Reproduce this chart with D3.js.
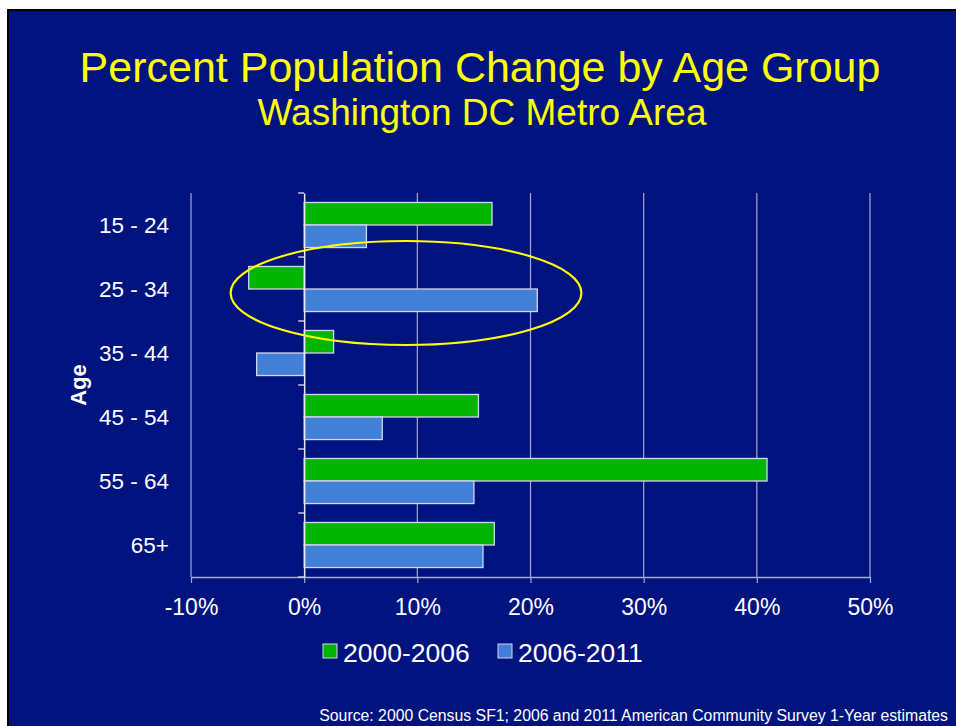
<!DOCTYPE html>
<html>
<head>
<meta charset="utf-8">
<script src="https://cdn.jsdelivr.net/npm/d3@7"></script>
<style>
  body { margin: 0; background: #fff; }
  svg { display: block; font-family: "Liberation Sans", Arial, sans-serif; }
</style>
</head>
<body>
<div id="chart"></div>
<script>
// data
const ageGroups = ["15 - 24", "25 - 34", "35 - 44", "45 - 54", "55 - 64", "65+"];
const series = ["2000-2006", "2006-2011"];
const change2000_2006 = [16.6, -4.9, 2.6, 15.4, 40.9, 16.8];
const change2006_2011 = [5.5, 20.6, -4.2, 6.9, 15.0, 15.8];
const xTicks = [-10, 0, 10, 20, 30, 40, 50];

const colors = ["#00b400", "#427fd6"];
const bg = "#00137f";

const W = 956, H = 726;
const margin = {top: 193, right: 86, bottom: 149, left: 191};
const w = W - margin.left - margin.right;
const h = H - margin.top - margin.bottom;

const svg = d3.select("#chart").append("svg")
  .attr("width", W)
  .attr("height", H);

// slide background with thin black frame
svg.append("rect")
  .attr("x", 7).attr("y", 9)
  .attr("width", W - 7).attr("height", H - 9)
  .attr("fill", "#000");
svg.append("rect")
  .attr("x", 9).attr("y", 11)
  .attr("width", W - 9).attr("height", H - 11)
  .attr("fill", bg);

// titles
svg.append("text")
  .attr("x", 480).attr("y", 82)
  .attr("text-anchor", "middle")
  .attr("fill", "#ffff00")
  .style("font-size", "43px")
  .text("Percent Population Change by Age Group");
svg.append("text")
  .attr("x", 482).attr("y", 125)
  .attr("text-anchor", "middle")
  .attr("fill", "#ffff00")
  .style("font-size", "37px")
  .text("Washington DC Metro Area");

const g = svg.append("g")
  .attr("transform", "translate(" + margin.left + "," + margin.top + ")");

const x = d3.scaleLinear().domain([-10, 50]).range([0, w]);
const y = d3.scaleBand().domain(ageGroups).range([0, h]);
const ySub = d3.scaleBand().domain(series).range([0, y.bandwidth()]).paddingOuter(0.42);

// vertical gridlines
g.selectAll("line.grid")
  .data(xTicks.filter(d => d !== 0))
  .enter().append("line")
  .attr("class", "grid")
  .attr("x1", d => x(d)).attr("x2", d => x(d))
  .attr("y1", 0).attr("y2", h)
  .attr("stroke", "#a3aad6")
  .attr("stroke-width", 1.2);

// x axis
const xAxis = g.append("g")
  .attr("transform", "translate(0," + h + ")")
  .call(d3.axisBottom(x).tickValues(xTicks).tickFormat(d => d + "%").tickSizeInner(6).tickSizeOuter(0).tickPadding(16));
xAxis.select(".domain").attr("stroke", "#a3aad6").attr("stroke-width", 1.5);
xAxis.selectAll(".tick line").attr("stroke", "#a3aad6").attr("stroke-width", 1.2);
xAxis.selectAll(".tick text")
  .attr("fill", "#fff")
  .style("font-size", "23px")
  .style("font-family", "'Liberation Sans', Arial, sans-serif");

// bars
const rows = ageGroups.map((a, i) => ({age: a, vals: [change2000_2006[i], change2006_2011[i]]}));
const groups = g.selectAll("g.row")
  .data(rows)
  .enter().append("g")
  .attr("class", "row")
  .attr("transform", d => "translate(0," + y(d.age) + ")");

groups.selectAll("rect")
  .data(d => d.vals.map((v, j) => ({s: series[j], v: v, j: j})))
  .enter().append("rect")
  .attr("x", d => x(Math.min(0, d.v)))
  .attr("y", d => ySub(d.s))
  .attr("width", d => Math.abs(x(d.v) - x(0)))
  .attr("height", ySub.bandwidth())
  .attr("fill", d => colors[d.j])
  .attr("stroke", "#d2d6f0")
  .attr("stroke-width", 1.3);

// y axis on the zero line
const yAxis = g.append("g")
  .attr("transform", "translate(" + x(0) + ",0)")
  .call(d3.axisLeft(y).tickSize(0).tickFormat(""));
yAxis.select(".domain").attr("stroke", "#e8eaf8").attr("stroke-width", 1.5);

g.selectAll("line.ytick")
  .data(ageGroups.concat(["end"]))
  .enter().append("line")
  .attr("class", "ytick")
  .attr("x1", x(0) - 6).attr("x2", x(0))
  .attr("y1", (d, i) => i * y.step())
  .attr("y2", (d, i) => i * y.step())
  .attr("stroke", "#c4c9ea")
  .attr("stroke-width", 1.5);

// category labels
g.selectAll("text.cat")
  .data(ageGroups)
  .enter().append("text")
  .attr("class", "cat")
  .attr("x", -22)
  .attr("y", d => y(d) + y.bandwidth() / 2)
  .attr("dy", "0.35em")
  .attr("text-anchor", "end")
  .attr("fill", "#fff")
  .style("font-size", "22.5px")
  .text(d => d);

// axis title
svg.append("text")
  .attr("transform", "translate(86," + (margin.top + h / 2) + ") rotate(-90)")
  .attr("text-anchor", "middle")
  .attr("fill", "#fff")
  .style("font-size", "22px")
  .style("font-weight", "bold")
  .text("Age");

// highlight ellipse round the 25 - 34 group
g.append("ellipse")
  .attr("cx", x(9))
  .attr("cy", y("25 - 34") + y.bandwidth() / 2 + 4)
  .attr("rx", x(15.5) - x(0))
  .attr("ry", 52)
  .attr("fill", "none")
  .attr("stroke", "#ffff00")
  .attr("stroke-width", 2.2);

// legend
const legend = svg.append("g").attr("transform", "translate(323,644)");
const items = legend.selectAll("g")
  .data(series)
  .enter().append("g")
  .attr("transform", (d, i) => "translate(" + (i * 175) + ",0)");
items.append("rect")
  .attr("width", 14).attr("height", 14)
  .attr("fill", (d, i) => colors[i])
  .attr("stroke", "#d2d6f0")
  .attr("stroke-width", 1);
items.append("text")
  .attr("x", 20).attr("y", 18)
  .attr("fill", "#fff")
  .style("font-size", "26.5px")
  .text(d => d);

// source note
svg.append("text")
  .attr("x", 948).attr("y", 721)
  .attr("text-anchor", "end")
  .attr("fill", "#fff")
  .style("font-size", "15.8px")
  .text("Source: 2000 Census SF1; 2006 and 2011 American Community Survey 1-Year estimates");
</script>
</body>
</html>
